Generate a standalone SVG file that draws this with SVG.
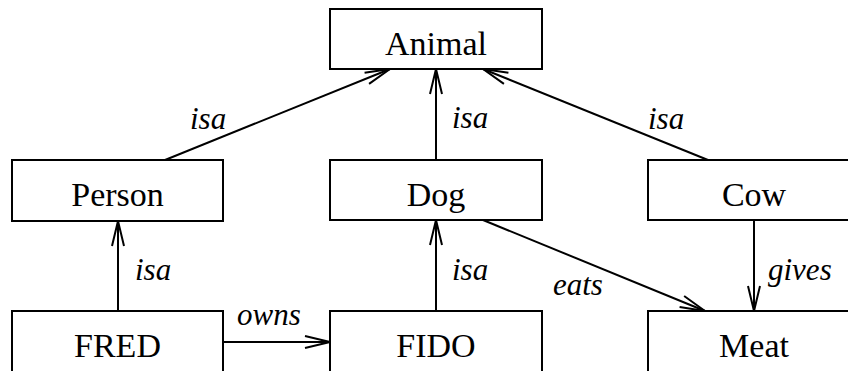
<svg xmlns="http://www.w3.org/2000/svg" width="848" height="371" viewBox="0 0 848 371">
  <style>
    .box { fill: #ffffff; stroke: #000000; stroke-width: 2; }
    .name { font-family: "Liberation Serif", "DejaVu Serif", serif; font-size: 34px; fill: #000000; text-anchor: middle; }
    .edge { fill: none; stroke: #000000; stroke-width: 2; marker-end: url(#open); }
    .rel { font-family: "Liberation Serif", "DejaVu Serif", serif; font-size: 31px; font-style: italic; fill: #000000; }
  </style>
  <defs>
    <marker id="open" markerUnits="userSpaceOnUse" markerWidth="30" markerHeight="16" viewBox="-27 -8 30 16" refX="0" refY="0" orient="auto">
      <path d="M -25 -6 L 0 0 L -25 6" fill="none" stroke="#000000" stroke-width="2"/>
    </marker>
  </defs>
  <rect width="848" height="371" fill="#ffffff"/>

  <g id="edges">
    <line class="edge" x1="165" y1="160" x2="390" y2="69"/>
    <line class="edge" x1="436" y1="160" x2="436" y2="69"/>
    <line class="edge" x1="708" y1="160" x2="483" y2="69"/>
    <line class="edge" x1="118" y1="311" x2="118" y2="221"/>
    <line class="edge" x1="223" y1="342" x2="330" y2="342"/>
    <line class="edge" x1="436" y1="311" x2="436" y2="220"/>
    <line class="edge" x1="483" y1="220" x2="705" y2="311"/>
    <line class="edge" x1="754" y1="220" x2="754" y2="311"/>
    <text class="rel" x="190" y="129">isa</text>
    <text class="rel" x="452" y="128">isa</text>
    <text class="rel" x="648" y="129">isa</text>
    <text class="rel" x="135" y="280">isa</text>
    <text class="rel" x="237" y="325">owns</text>
    <text class="rel" x="452" y="280">isa</text>
    <text class="rel" x="553" y="295">eats</text>
    <text class="rel" x="768" y="280">gives</text>
  </g>

  <g id="animal">
    <rect class="box" x="330" y="9" width="212" height="60"/>
    <text class="name" x="436" y="55">Animal</text>
  </g>
  <g id="person">
    <rect class="box" x="12" y="160" width="211" height="61"/>
    <text class="name" x="117.5" y="206">Person</text>
  </g>
  <g id="dog">
    <rect class="box" x="330" y="160" width="212" height="60"/>
    <text class="name" x="436" y="206">Dog</text>
  </g>
  <g id="cow">
    <rect class="box" x="648" y="160" width="212" height="60"/>
    <text class="name" x="754" y="206">Cow</text>
  </g>
  <g id="fred">
    <rect class="box" x="12" y="311" width="211" height="70"/>
    <text class="name" x="117.5" y="357">FRED</text>
  </g>
  <g id="fido">
    <rect class="box" x="330" y="311" width="212" height="70"/>
    <text class="name" x="436" y="357">FIDO</text>
  </g>
  <g id="meat">
    <rect class="box" x="648" y="311" width="212" height="70"/>
    <text class="name" x="754" y="357">Meat</text>
  </g>
</svg>
